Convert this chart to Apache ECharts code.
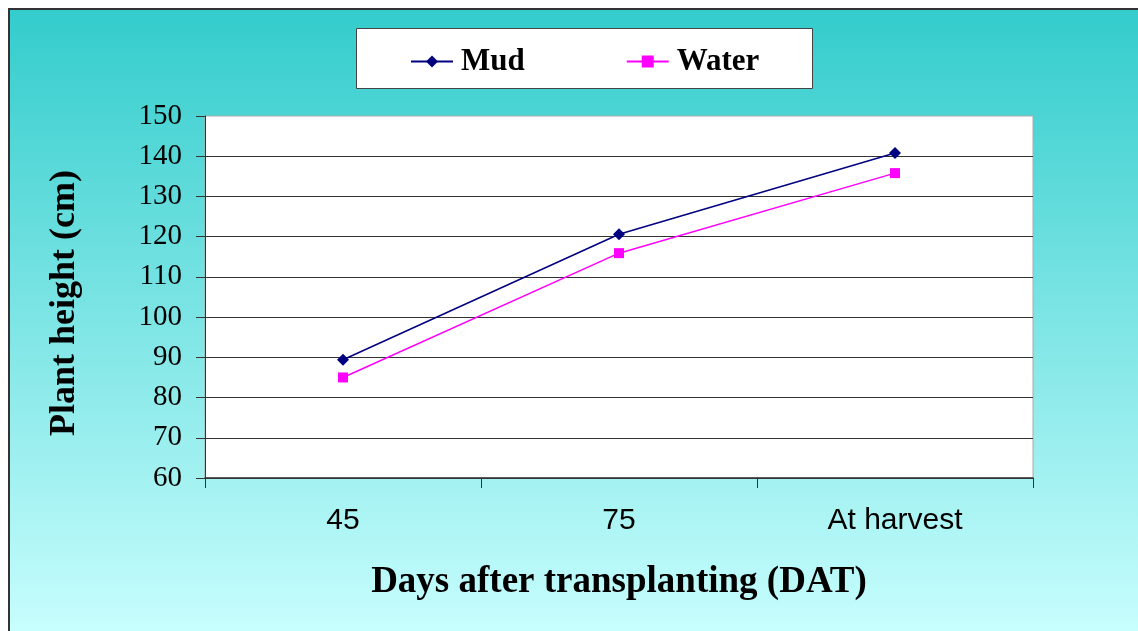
<!DOCTYPE html>
<html><head><meta charset="utf-8">
<script src="https://cdn.jsdelivr.net/npm/echarts@6/dist/echarts.min.js"></script>
<style>html,body{margin:0;padding:0;background:#fff}#c{width:1138px;height:631px}</style>
</head><body><div id="c"></div>
<script>
var categories = ['45', '75', 'At harvest'];
var mudValues = [89.4, 120.6, 140.8];
var waterValues = [85.0, 115.9, 135.8];
var yTicks = {min: 60, max: 150, interval: 10};
var seriesNames = ['Mud', 'Water'];

var chart = echarts.init(document.getElementById('c'), null, {renderer: 'canvas'});
var serif = '"Liberation Serif", "Times New Roman", serif';
var sans = '"Liberation Sans", Arial, sans-serif';
chart.setOption({
  animation: false,
  backgroundColor: '#ffffff',
  graphic: [
    {type: 'rect', z: -10, shape: {x: 9, y: 9, width: 1140, height: 640},
     style: {fill: new echarts.graphic.LinearGradient(0, 0, 0, 1, [{offset: 0, color: '#33cccc'}, {offset: 1, color: '#ccffff'}]),
             stroke: '#333', lineWidth: 2}},
    {type: 'rect', z: -5, shape: {x: 356.5, y: 28.5, width: 456, height: 60},
     style: {fill: '#ffffff', stroke: '#444', lineWidth: 1}}
  ],
  legend: {
    left: 410, top: 46, padding: 0, itemGap: 101,
    itemWidth: 42, itemHeight: 15,
    textStyle: {fontFamily: serif, fontWeight: 'bold', fontSize: 31, color: '#000', padding: [0, 0, 0, 3]},
    data: seriesNames
  },
  grid: {left: 205, top: 116, right: 105, bottom: 153, show: true, backgroundColor: '#ffffff', borderColor: '#aaa', borderWidth: 1},
  xAxis: {
    type: 'category', data: categories, boundaryGap: true,
    name: 'Days after transplanting (DAT)', nameLocation: 'middle', nameGap: 86,
    nameTextStyle: {fontFamily: serif, fontWeight: 'bold', fontSize: 37, color: '#000'},
    axisLine: {lineStyle: {color: '#333', width: 1.5}},
    axisTick: {show: true, length: 10, lineStyle: {color: '#333'}},
    axisLabel: {fontFamily: sans, fontSize: 30, color: '#000', margin: 28},
    splitLine: {show: false}
  },
  yAxis: {
    type: 'value', min: yTicks.min, max: yTicks.max, interval: yTicks.interval,
    name: 'Plant height (cm)', nameLocation: 'middle', nameGap: 122,
    nameTextStyle: {fontFamily: serif, fontWeight: 'bold', fontSize: 36, color: '#000', padding: [0, 12, 0, 0]},
    axisLine: {show: true, lineStyle: {color: '#333', width: 1}},
    axisTick: {show: true, length: 9, lineStyle: {color: '#333'}},
    axisLabel: {fontFamily: serif, fontSize: 29, color: '#000', margin: 23},
    splitLine: {show: true, showMaxLine: false, lineStyle: {color: '#333', width: 1}}
  },
  series: [
    {name: seriesNames[0], type: 'line', data: mudValues, symbol: 'diamond', symbolSize: 12,
     lineStyle: {color: '#000080', width: 1.5}, itemStyle: {color: '#000080'}},
    {name: seriesNames[1], type: 'line', data: waterValues, symbol: 'rect', symbolSize: 10,
     lineStyle: {color: '#ff00ff', width: 1.5}, itemStyle: {color: '#ff00ff'}}
  ]
});
</script></body></html>
